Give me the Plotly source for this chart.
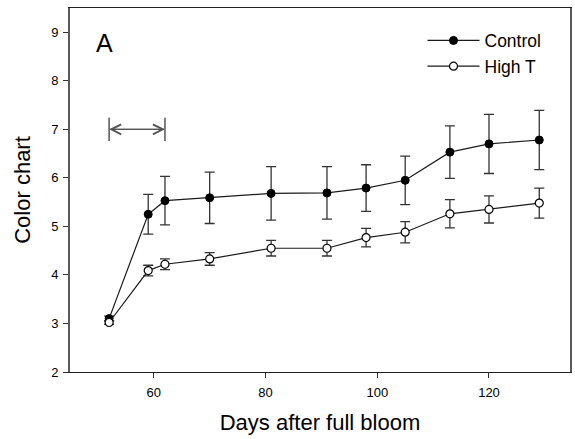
import plotly.graph_objects as go

days = [52, 59, 62, 70, 81, 91, 98, 105, 113, 120, 129]
control = [3.10, 5.25, 5.53, 5.59, 5.68, 5.69, 5.79, 5.95, 6.53, 6.70, 6.78]
control_err = [0.05, 0.41, 0.50, 0.53, 0.55, 0.54, 0.48, 0.50, 0.54, 0.61, 0.61]
hight = [3.02, 4.09, 4.22, 4.33, 4.55, 4.55, 4.77, 4.88, 5.26, 5.35, 5.48]
hight_err = [0.04, 0.11, 0.11, 0.13, 0.16, 0.16, 0.19, 0.22, 0.29, 0.28, 0.31]

x_ticks = [60, 80, 100, 120]
y_ticks = [2, 3, 4, 5, 6, 7, 8, 9]
arrow_start, arrow_end, arrow_y = 52, 62, 7.0
arrow_half_bar = 0.24

FONT = "Liberation Sans, Arial, sans-serif"
INK = "#1a1a1a"
ERR = "#333333"

fig = go.Figure()
fig.add_trace(go.Scatter(
    x=days, y=control, name="Control", mode="lines+markers",
    line=dict(color=INK, width=1.2),
    marker=dict(color="black", size=8, line=dict(color="black", width=1)),
    error_y=dict(type="data", array=control_err, color=ERR, thickness=1.3, width=5),
))
fig.add_trace(go.Scatter(
    x=days, y=hight, name="High T", mode="lines+markers",
    line=dict(color=INK, width=1.2),
    marker=dict(color="white", size=8, line=dict(color="black", width=1.2)),
    error_y=dict(type="data", array=hight_err, color=ERR, thickness=1.3, width=5),
))

# double-headed arrow with end bars
gray = "#555555"
for a, b in [(arrow_start, arrow_end), (arrow_end, arrow_start)]:
    fig.add_annotation(x=b, y=arrow_y, ax=a, ay=arrow_y, xref="x", yref="y",
                       axref="x", ayref="y", showarrow=True, arrowhead=5,
                       arrowsize=1.5, arrowwidth=1.3, arrowcolor=gray, text="")
for xv in [arrow_start, arrow_end]:
    fig.add_shape(type="line", x0=xv, x1=xv, y0=arrow_y - arrow_half_bar,
                  y1=arrow_y + arrow_half_bar, xref="x", yref="y",
                  line=dict(color=gray, width=1.5))

fig.add_annotation(text="A", x=0.0697, y=0.904, xref="paper", yref="paper",
                   showarrow=False, font=dict(family=FONT, size=25, color="black"),
                   xanchor="center", yanchor="middle")

tick_common = dict(ticks="outside", ticklen=5, tickwidth=1.2, tickcolor="#333333",
                   showgrid=False, zeroline=False,
                   tickfont=dict(family=FONT, size=13, color="black"))

fig.update_layout(
    width=575, height=439,
    margin=dict(l=70, r=3, t=8, b=67),
    paper_bgcolor="white", plot_bgcolor="white",
    font=dict(family=FONT, color="black"),
    showlegend=True,
    legend=dict(x=0.705, y=0.96, xanchor="left", yanchor="top",
                bgcolor="rgba(0,0,0,0)", font=dict(family=FONT, size=17.5),
                itemwidth=52, tracegroupgap=0),
    xaxis=dict(range=[45, 134.5], tickvals=x_ticks, ticklabelstandoff=3,
               showline=True, linecolor="#222222", linewidth=1.2, mirror=True,
               title=dict(text="Days after full bloom", standoff=15,
                          font=dict(family=FONT, size=22)),
               **tick_common),
    yaxis=dict(range=[2, 9.5], tickvals=y_ticks, ticklabelstandoff=2,
               showline=True, linecolor="#5a5a5a", linewidth=1.8, mirror=True,
               title=dict(text="Color chart", standoff=15,
                          font=dict(family=FONT, size=22)),
               **tick_common),
)

fig.write_html("out.html")
